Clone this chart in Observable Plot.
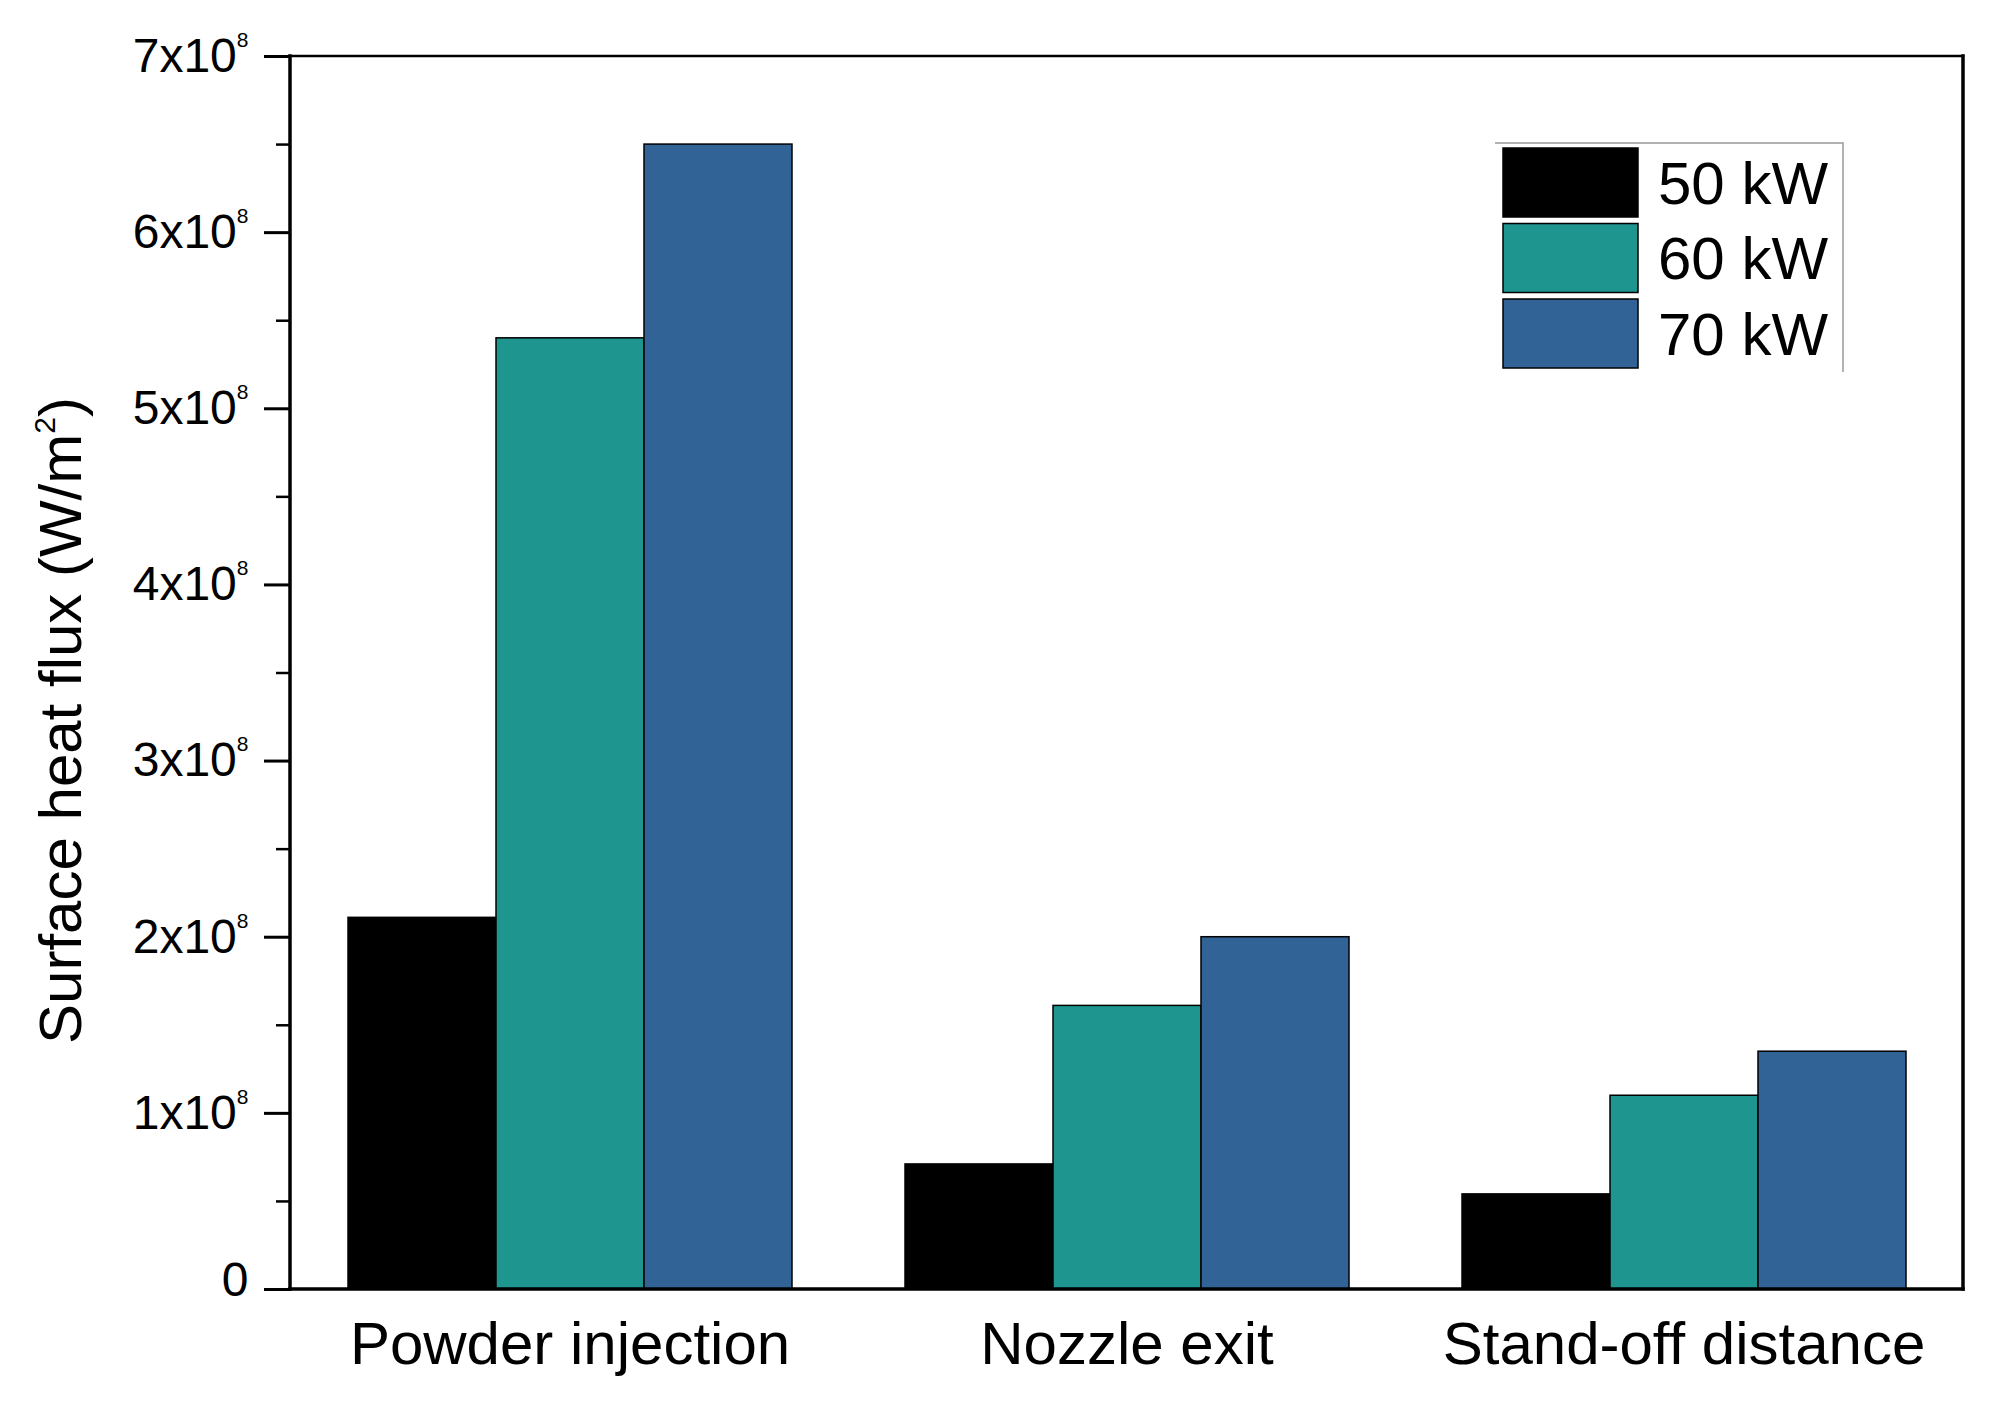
<!DOCTYPE html>
<html>
<head>
<meta charset="utf-8">
<script src="https://cdn.jsdelivr.net/npm/d3@7"></script>
<script src="https://cdn.jsdelivr.net/npm/@observablehq/plot@0.6"></script>
<style>
  body { margin: 0; background: #fff; }
  #chart { position: relative; width: 1991px; height: 1404px; }
</style>
</head>
<body>
<div id="chart"></div>
<script>
// ---- data ----
const categories = ["Powder injection", "Nozzle exit", "Stand-off distance"];
const series = ["50 kW", "60 kW", "70 kW"];
const values50 = [2.11e8, 0.71e8, 0.54e8];
const values60 = [5.40e8, 1.61e8, 1.10e8];
const values70 = [6.50e8, 2.00e8, 1.35e8];
const colors = ["#000000", "#1e958f", "#316396"];
const yTicks = [0, 1e8, 2e8, 3e8, 4e8, 5e8, 6e8, 7e8];
const yMinorTicks = [0.5e8, 1.5e8, 2.5e8, 3.5e8, 4.5e8, 5.5e8, 6.5e8];
const yTickMantissa = ["0", "1x10", "2x10", "3x10", "4x10", "5x10", "6x10", "7x10"];
const yTickExponent = "8";
const yLabelMain = "Surface heat flux (W/m";
const yLabelSup = "2";
const yLabelEnd = ")";

const valueSets = [values50, values60, values70];
const rows = [];
categories.forEach((c, i) => {
  series.forEach((s, j) => rows.push({category: c, series: s, value: valueSets[j][i]}));
});

const FONT = "'Liberation Sans', Arial, Helvetica, sans-serif";
const W = 1991, H = 1404;

const chart = Plot.plot({
  width: W,
  height: H,
  marginLeft: 290,
  marginRight: 28,
  marginTop: 56,
  marginBottom: 115,
  style: {fontFamily: FONT, fontSize: "48px", color: "#000", background: "#fff", overflow: "visible"},
  fx: {domain: categories, padding: 0, label: null},
  x: {domain: series, paddingInner: 0, paddingOuter: 0.3725, axis: null},
  y: {domain: [0, 7e8], label: null},
  color: {domain: series, range: colors},
  marks: [
    Plot.barY(rows, {fx: "category", x: "series", y: "value", fill: "series", stroke: "#000", strokeWidth: 1.5, inset: 0}),
    Plot.axisY({ticks: yMinorTicks, tickSize: 15, tickFormat: () => "", strokeWidth: 2.5, label: null}),
    Plot.axisY({ticks: yTicks, tickSize: 27, tickPadding: 16, strokeWidth: 3, fontSize: 48, label: null,
      tickFormat: d => yTickMantissa[yTicks.indexOf(d)]}),
    Plot.axisFx({anchor: "bottom", tickSize: 0, tickPadding: 32, fontSize: 60, label: null})
  ]
});

document.getElementById("chart").appendChild(chart);

const svg = d3.select(chart);

// superscript exponent on y tick labels; "0" sits slightly raised in the original
svg.selectAll('g[aria-label="y-axis tick label"] text').each(function() {
  const t = d3.select(this);
  const s = t.text();
  if (s === "0") {
    const tr = t.attr("transform") || "";
    t.attr("transform", tr + " translate(0,-9)");
  } else if (s !== "") {
    t.append("tspan").attr("font-size", 21).attr("dy", -25).text(yTickExponent);
  }
});

// frame box around the plotting area
const fxRange = chart.scale("fx").range;
const yRange = chart.scale("y").range;
const x0 = Math.min(...fxRange), x1 = Math.max(...fxRange);
const yTop = Math.min(...yRange), yBot = Math.max(...yRange);
const frame = svg.append("g").attr("stroke", "#000").attr("stroke-linecap", "square");
frame.append("line").attr("x1", x0).attr("x2", x1).attr("y1", yTop).attr("y2", yTop).attr("stroke-width", 2.5);
frame.append("line").attr("x1", x1).attr("x2", x1).attr("y1", yTop).attr("y2", yBot).attr("stroke-width", 3.5);
frame.append("line").attr("x1", x0).attr("x2", x1).attr("y1", yBot).attr("y2", yBot).attr("stroke-width", 3.5);
frame.append("line").attr("x1", x0).attr("x2", x0).attr("y1", yTop).attr("y2", yBot).attr("stroke-width", 3.5);

// y-axis label
const yl = svg.append("text")
  .attr("transform", `translate(81,${(yTop + yBot) / 2 + 48}) rotate(-90)`)
  .attr("text-anchor", "middle")
  .attr("font-family", FONT)
  .attr("font-size", 60)
  .attr("fill", "#000");
yl.append("tspan").text(yLabelMain);
yl.append("tspan").attr("font-size", 30).attr("dy", -26).text(yLabelSup);
yl.append("tspan").attr("dy", 26).text(yLabelEnd);

// legend (inside plot, top right)
const color = chart.scale("color");
const lg = svg.append("g").attr("transform", "translate(1495,143)");
lg.append("path").attr("d", "M0,0H348V229").attr("fill", "none").attr("stroke", "#999").attr("stroke-width", 1.5);
color.domain.forEach((s, i) => {
  const g = lg.append("g").attr("transform", `translate(8,${5 + i * 75.5})`);
  g.append("rect").attr("width", 135).attr("height", 69)
    .attr("fill", color.range[i]).attr("stroke", "#000").attr("stroke-width", 1.5);
  g.append("text").attr("x", 155).attr("y", 34.5).attr("dy", "0.35em")
    .attr("text-anchor", "start")
    .attr("font-family", FONT).attr("font-size", 60).attr("fill", "#000").text(s);
});
</script>
</body>
</html>
